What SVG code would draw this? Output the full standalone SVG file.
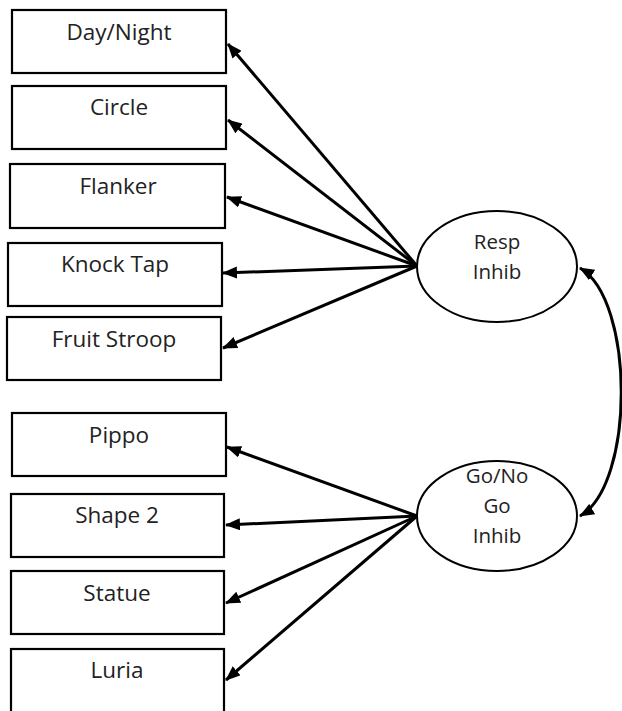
<svg xmlns="http://www.w3.org/2000/svg" width="622" height="711" viewBox="0 0 622 711">
<style>
.box{fill:#fff;stroke:#000;stroke-width:2.2}
.ell{fill:#fff;stroke:#000;stroke-width:2}
.lbl{font-family:"Open Sans","Liberation Sans",sans-serif;font-size:22.5px;fill:#222;text-anchor:middle}
.elbl{font-family:"Open Sans","Liberation Sans",sans-serif;font-size:20.5px;fill:#222;text-anchor:middle}
.con{fill:none;stroke:#000;stroke-width:3;marker-end:url(#ah)}
</style>
<defs>
<marker id="ah" viewBox="0 0 15 12" refX="14" refY="6" markerWidth="15" markerHeight="12" markerUnits="userSpaceOnUse" orient="auto-start-reverse">
<path d="M0,0 L15,6 L0,12 z" fill="#000"/>
</marker>
</defs>
<rect width="622" height="711" fill="#fff"/>
<g id="n-daynight"><rect class="box" x="12" y="10" width="214" height="63"/><text class="lbl" x="119" y="40">Day/Night</text></g>
<g id="n-circle"><rect class="box" x="12" y="86" width="214" height="63"/><text class="lbl" x="119" y="115">Circle</text></g>
<g id="n-flanker"><rect class="box" x="10" y="164" width="215" height="64"/><text class="lbl" x="118" y="194">Flanker</text></g>
<g id="n-knocktap"><rect class="box" x="8" y="243" width="214" height="63"/><text class="lbl" x="115" y="272">Knock Tap</text></g>
<g id="n-fruitstroop"><rect class="box" x="7" y="317" width="214" height="63"/><text class="lbl" x="114" y="347">Fruit Stroop</text></g>
<g id="n-pippo"><rect class="box" x="12" y="413" width="214" height="63"/><text class="lbl" x="119" y="443">Pippo</text></g>
<g id="n-shape2"><rect class="box" x="11" y="494" width="213" height="63"/><text class="lbl" x="117" y="523">Shape 2</text></g>
<g id="n-statue"><rect class="box" x="11" y="571" width="213" height="63"/><text class="lbl" x="117" y="601">Statue</text></g>
<g id="n-luria"><rect class="box" x="11" y="649" width="213" height="64"/><text class="lbl" x="117" y="678">Luria</text></g>
<g id="connectors">
<line class="con" x1="417" y1="266" x2="228" y2="44"/>
<line class="con" x1="417" y1="266" x2="228" y2="120"/>
<line class="con" x1="417" y1="266" x2="227" y2="197"/>
<line class="con" x1="417" y1="266" x2="223" y2="273"/>
<line class="con" x1="417" y1="266" x2="223" y2="348"/>
<line class="con" x1="417" y1="516" x2="227" y2="447"/>
<line class="con" x1="417" y1="516" x2="226" y2="525"/>
<line class="con" x1="417" y1="516" x2="226" y2="603"/>
<line class="con" x1="417" y1="516" x2="226" y2="680"/>
<path class="con" style="marker-start:url(#ah)" d="M580,268 C635,300 635,485 580,516"/>
</g>
<g id="n-respinhib"><ellipse class="ell" cx="497" cy="266.5" rx="80" ry="55.5"/><text class="elbl" x="497" y="249">Resp</text><text class="elbl" x="497" y="279">Inhib</text></g>
<g id="n-gonogo"><ellipse class="ell" cx="497" cy="516" rx="80" ry="55"/><text class="elbl" x="497" y="483">Go/No</text><text class="elbl" x="497" y="513">Go</text><text class="elbl" x="497" y="543">Inhib</text></g>
</svg>
